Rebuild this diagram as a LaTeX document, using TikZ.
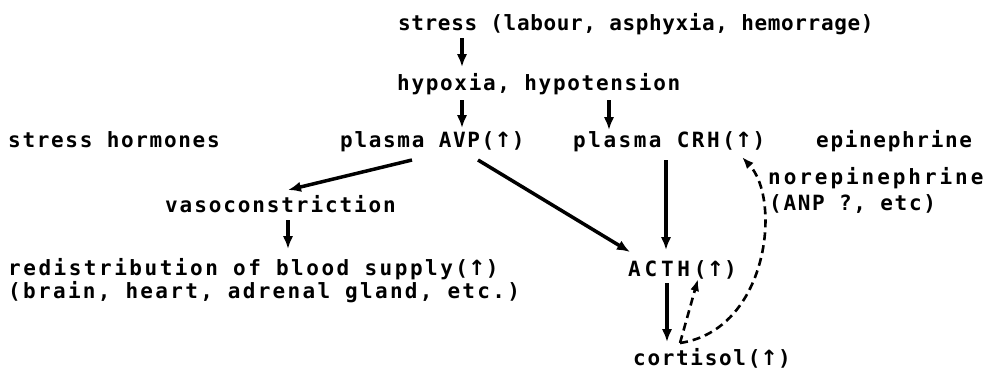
\documentclass[tikz,border=0pt]{standalone}
\usepackage{fontspec}
\usetikzlibrary{arrows.meta}
\newfontfamily\lblfont{DejaVu Sans Mono}[LetterSpace=8]
\newfontfamily\arrfont{DejaVu Sans}
\newcommand{\upar}{{\arrfont\symbol{"2191}}}
\tikzset{
  lbl/.style={anchor=base west, inner sep=0pt, font=\lblfont\bfseries\fontsize{21}{25}\selectfont},
  wide/.style={font=\lblfont\bfseries\fontsize{21}{25}\selectfont\addfontfeature{LetterSpace=#1}},
  arr/.style={line width=3.5pt, -{Latex[length=13pt,width=10.5pt]}},
  darr/.style={line width=2.6pt, dash pattern=on 8pt off 5pt, -{Latex[length=12pt,width=9pt]}}
}
\begin{document}
\begin{tikzpicture}[x=1pt,y=-1pt]
\fill[white] (0,0) rectangle (991,372);
\useasboundingbox (0,0) rectangle (991,372);

\node[lbl, wide=3] (line1) at (398,30) {stress (labour, asphyxia, hemorrage)};
\node[lbl] (hyp) at (397,90) {hypoxia, hypotension};
\node[lbl] (sh) at (8,147) {stress hormones};
\node[lbl] (avp) at (340,147) {plasma AVP(\upar)};
\node[lbl, wide=12] (crh) at (573,147) {plasma CRH(\upar)};
\node[lbl] (epi) at (816,147) {epinephrine};
\node[lbl, wide=14] (norepi) at (768,184) {norepinephrine};
\node[lbl] (anp) at (769,210) {(ANP ?, etc)};
\node[lbl, wide=9] (vaso) at (165,212) {vasoconstriction};
\node[lbl, wide=12] (redis) at (8,275) {redistribution of blood supply(\upar)};
\node[lbl, wide=11] (brain) at (8,298) {(brain, heart, adrenal gland, etc.)};
\node[lbl, wide=18] (acth) at (628,276) {ACTH(\upar)};
\node[lbl] (cort) at (633,365) {cortisol(\upar)};

\draw[arr] ([shift={(64,8)}]line1.base west) -- ([shift={(65,-23)}]hyp.base west);
\draw[arr] ([shift={(65,10)}]hyp.base west) -- ([shift={(122,-19)}]avp.base west);
\draw[arr] ([shift={(212,10)}]hyp.base west) -- ([shift={(36,-17)}]crh.base west);
\draw[arr] ([shift={(72,13)}]avp.base west) -- ([shift={(123,-22)}]vaso.base west);
\draw[arr] ([shift={(138,13)}]avp.base west) -- ([shift={(2,-24)}]acth.base west);
\draw[arr] ([shift={(93,13)}]crh.base west) -- ([shift={(38,-26)}]acth.base west);
\draw[arr] ([shift={(123,8)}]vaso.base west) -- ([shift={(280,-26)}]redis.base west);
\draw[arr] ([shift={(39,7)}]acth.base west) -- ([shift={(34,-23)}]cort.base west);

\draw[darr] ([shift={(47,-22)}]cort.base west) -- ([shift={(70,3)}]acth.base west);
\draw[darr] ([shift={(47,-22)}]cort.base west) .. controls (768,330) and (782,200) .. ([shift={(169,10)}]crh.base west);
\end{tikzpicture}
\end{document}
